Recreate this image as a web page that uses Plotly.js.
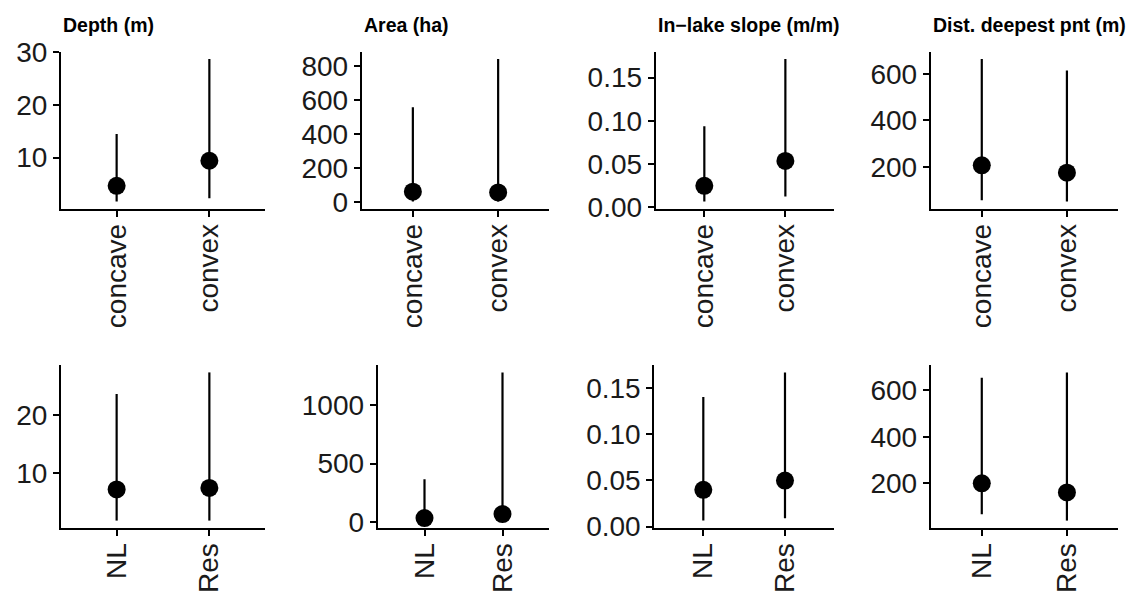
<!DOCTYPE html>
<html>
<head>
<meta charset="utf-8">
<script src="https://cdn.plot.ly/plotly-3.0.1.min.js"></script>
<style>html,body{margin:0;padding:0;background:#fff;}#chart{width:1127px;height:595px;}</style>
</head>
<body>
<div id="chart"></div>
<script>
// ---- data ----
const shapeCats = ['concave', 'convex'];
const originCats = ['NL', 'Res'];
const titles = ['Depth (m)', 'Area (ha)', 'In\u2212lake slope (m/m)', 'Dist. deepest pnt (m)'];

// shape (top row): median, lower, upper
const shapeDepthMed = [4.65, 9.4];
const shapeDepthLow = [1.65, 2.3];
const shapeDepthHigh = [14.5, 28.7];
const shapeAreaMed = [59, 55];
const shapeAreaLow = [2, 1];
const shapeAreaHigh = [557, 840];
const shapeSlopeMed = [0.0245, 0.0534];
const shapeSlopeLow = [0.0062, 0.012];
const shapeSlopeHigh = [0.0935, 0.1714];
const shapeDistMed = [207, 175];
const shapeDistLow = [57, 51];
const shapeDistHigh = [663, 614];

// origin (bottom row)
const originDepthMed = [7.24, 7.5];
const originDepthLow = [1.9, 1.9];
const originDepthHigh = [23.6, 27.3];
const originAreaMed = [32, 66];
const originAreaLow = [10, 10];
const originAreaHigh = [366, 1284];
const originSlopeMed = [0.0398, 0.0499];
const originSlopeLow = [0.0065, 0.0091];
const originSlopeHigh = [0.1403, 0.167];
const originDistMed = [200, 161];
const originDistLow = [67, 40];
const originDistHigh = [654, 677];

const topDticks = [10, 200, 0.05, 200];
const bottomDticks = [10, 500, 0.05, 200];

// ---- layout geometry (pixels) ----
const W = 1127, H = 595;
const topY = [52, 208.7], botY = [365, 528];
const topX = [[61, 265], [361.7, 549.3], [655.7, 834], [930.7, 1118]];
const botX = [[61, 265], [377.7, 549.3], [654.3, 834], [930.7, 1118]];

const panels = [
  {cats: shapeCats, med: shapeDepthMed, low: shapeDepthLow, high: shapeDepthHigh, dt: topDticks[0], xs: topX[0], ys: topY, fmt: ''},
  {cats: shapeCats, med: shapeAreaMed, low: shapeAreaLow, high: shapeAreaHigh, dt: topDticks[1], xs: topX[1], ys: topY, fmt: ''},
  {cats: shapeCats, med: shapeSlopeMed, low: shapeSlopeLow, high: shapeSlopeHigh, dt: topDticks[2], xs: topX[2], ys: topY, fmt: '.2f'},
  {cats: shapeCats, med: shapeDistMed, low: shapeDistLow, high: shapeDistHigh, dt: topDticks[3], xs: topX[3], ys: topY, fmt: ''},
  {cats: originCats, med: originDepthMed, low: originDepthLow, high: originDepthHigh, dt: bottomDticks[0], xs: botX[0], ys: botY, fmt: ''},
  {cats: originCats, med: originAreaMed, low: originAreaLow, high: originAreaHigh, dt: bottomDticks[1], xs: botX[1], ys: botY, fmt: ''},
  {cats: originCats, med: originSlopeMed, low: originSlopeLow, high: originSlopeHigh, dt: bottomDticks[2], xs: botX[2], ys: botY, fmt: '.2f'},
  {cats: originCats, med: originDistMed, low: originDistLow, high: originDistHigh, dt: bottomDticks[3], xs: botX[3], ys: botY, fmt: ''}
];

const FONT = 'Liberation Sans, Arial, Helvetica, sans-serif';
const traces = [];
const layout = {
  width: W, height: H,
  margin: {l: 0, r: 0, t: 0, b: 0},
  paper_bgcolor: '#fff', plot_bgcolor: '#fff',
  showlegend: false,
  font: {family: FONT, color: '#000'},
  annotations: []
};

panels.forEach((p, i) => {
  const n = i + 1;
  const xa = n === 1 ? 'x' : 'x' + n;
  const ya = n === 1 ? 'y' : 'y' + n;
  traces.push({
    type: 'scatter', mode: 'markers',
    x: p.cats, y: p.med,
    xaxis: xa, yaxis: ya,
    marker: {color: '#000', size: 18},
    error_y: {
      type: 'data', symmetric: false,
      array: p.high.map((h, k) => h - p.med[k]),
      arrayminus: p.low.map((l, k) => p.med[k] - l),
      width: 0, thickness: 2.2, color: '#000'
    },
    hoverinfo: 'skip'
  });
  const lo = Math.min(...p.low), hi = Math.max(...p.high);
  const pad = 0.05 * (hi - lo);
  const axCommon = {
    showline: true, linecolor: '#000', linewidth: 2,
    ticks: 'outside', ticklen: 6, tickwidth: 2, tickcolor: '#000',
    showgrid: false, zeroline: false,
    tickfont: {family: FONT, size: 28, color: '#1a1a1a'},
    fixedrange: true
  };
  layout['xaxis' + (n === 1 ? '' : n)] = Object.assign({}, axCommon, {
    type: 'category', range: [-0.6, 1.6],
    domain: [p.xs[0] / W, p.xs[1] / W],
    anchor: ya, tickangle: -90, ticklabelstandoff: -4
  });
  layout['yaxis' + (n === 1 ? '' : n)] = Object.assign({}, axCommon, {
    range: [lo - pad, hi + pad],
    domain: [1 - p.ys[1] / H, 1 - p.ys[0] / H],
    anchor: xa, dtick: p.dt, tick0: 0, tickformat: p.fmt
  });
  if (i < 4) {
    layout.annotations.push({
      xref: 'paper', yref: 'paper',
      x: p.xs[0] / W, y: 1 - 25 / H,
      xanchor: 'left', yanchor: 'middle',
      text: titles[i], showarrow: false,
      font: {family: FONT, size: 19.5, color: '#000', weight: 700}
    });
  }
});

Plotly.newPlot('chart', traces, layout, {displayModeBar: false, staticPlot: true});
</script>
</body>
</html>
